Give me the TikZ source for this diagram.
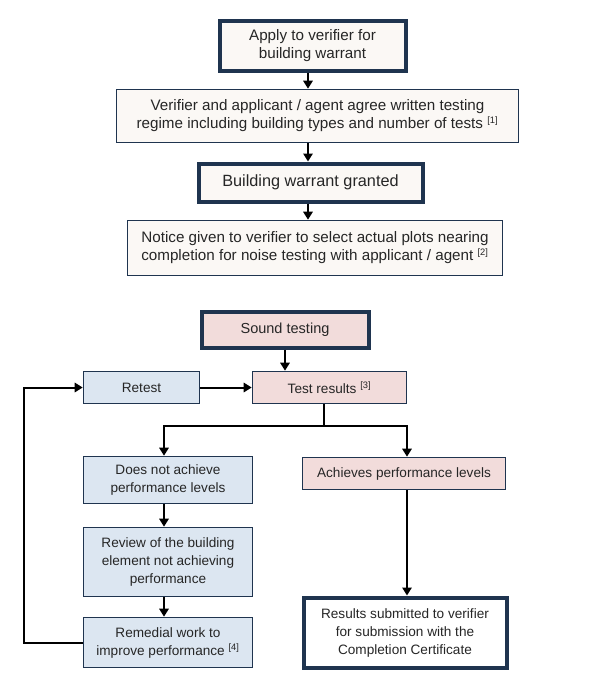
\documentclass[tikz,border=0pt]{standalone}
\usepackage{fontspec}
\setmainfont{Liberation Sans}
\usetikzlibrary{arrows.meta,calc}
\definecolor{navy}{HTML}{1F344F}
\definecolor{cream}{HTML}{FBF8F5}
\definecolor{pinkf}{HTML}{F2DCDB}
\definecolor{bluef}{HTML}{DCE6F1}
\definecolor{txt}{HTML}{262626}
\newcommand{\fnref}[1]{\textsuperscript{\fontsize{7pt}{8pt}\selectfont[#1]}}
\begin{document}
\begin{tikzpicture}[x=0.75pt,y=-0.75pt,
  box/.style={draw=navy,line width=1.2pt,inner sep=0pt,align=center,text=txt,font=\fontsize{11.4pt}{13.5pt}\selectfont},
  thick box/.style={box,line width=3pt},
  big/.style={font=\fontsize{12.2pt}{14pt}\selectfont},
  low/.style={font=\fontsize{10.2pt}{13.5pt}\selectfont},
  lowbig/.style={font=\fontsize{10.9pt}{13.5pt}\selectfont},
  arr/.style={line width=1.5pt,-{Triangle[length=6pt,width=7pt]}},
  ln/.style={line width=1.5pt}]
\useasboundingbox (0,0) rectangle (606,687);
\fill[white] (0,0) rectangle (606,687);
\node[thick box,fill=cream,minimum width=186*0.75pt,minimum height=50*0.75pt] (b1) at (312.5,45.5) {Apply to verifier for\\building warrant};
\node[box,fill=cream,minimum width=402*0.75pt,minimum height=53*0.75pt] (b2) at (317.5,116) {Verifier and applicant / agent agree written testing\\regime including building types and number of tests \fnref{1}};
\node[thick box,big,fill=cream,minimum width=224*0.75pt,minimum height=38*0.75pt] (b3) at (310.5,182.5) {Building warrant granted};
\node[box,fill=cream,minimum width=375*0.75pt,minimum height=55*0.75pt] (b4) at (315,248) {Notice given to verifier to select actual plots nearing\\completion for noise testing with applicant / agent \fnref{2}};
\node[thick box,lowbig,fill=pinkf,minimum width=167*0.75pt,minimum height=36*0.75pt] (sound) at (285,329.5) {Sound testing};
\node[box,low,fill=bluef,minimum width=116*0.75pt,minimum height=32*0.75pt] (retest) at (141.5,387.5) {Retest};
\node[box,low,fill=pinkf,minimum width=154*0.75pt,minimum height=32*0.75pt] (test) at (329.5,387.5) {Test results \fnref{3}};
\node[box,low,fill=bluef,minimum width=169*0.75pt,minimum height=47*0.75pt] (dna) at (168,480) {Does not achieve\\performance levels};
\node[box,low,fill=pinkf,minimum width=203*0.75pt,minimum height=32*0.75pt] (ach) at (404,473.5) {Achieves performance levels};
\node[box,low,fill=bluef,minimum width=169*0.75pt,minimum height=69*0.75pt] (rev) at (168,562) {Review of the building\\element not achieving\\performance};
\node[box,low,fill=bluef,minimum width=169*0.75pt,minimum height=50*0.75pt] (rem) at (168,642.5) {Remedial work to\\improve performance \fnref{4}};
\node[thick box,low,fill=white,minimum width=203*0.75pt,minimum height=70*0.75pt] (res) at (405,632.5) {Results submitted to verifier\\for submission with the\\Completion Certificate};
\coordinate (ax) at (308,0);
\coordinate (tx) at (324,0);
\coordinate (lx) at (164,0);
\coordinate (rx) at (407,0);
\coordinate (split) at (324,426);
\coordinate (loop) at (24,0);
\draw[arr] (b1.south -| ax) -- (b2.north -| ax);
\draw[arr] (b2.south -| ax) -- (b3.north -| ax);
\draw[arr] (b3.south -| ax) -- (b4.north -| ax);
\draw[arr] (sound.south) -- (sound.south |- test.north);
\draw[arr] (retest.east) -- (test.west);
\draw[ln] (test.south -| tx) -- (split);
\draw[arr] (split) -| (dna.north -| lx);
\draw[arr] (split) -| (ach.north -| rx);
\draw[arr] (dna.south -| lx) -- (rev.north -| lx);
\draw[arr] (rev.south -| lx) -- (rem.north -| lx);
\draw[arr] (ach.south -| rx) -- (res.north -| rx);
\draw[arr] (rem.west) -- (rem.west -| loop) -- (retest.west -| loop) -- (retest.west);
\end{tikzpicture}
\end{document}
